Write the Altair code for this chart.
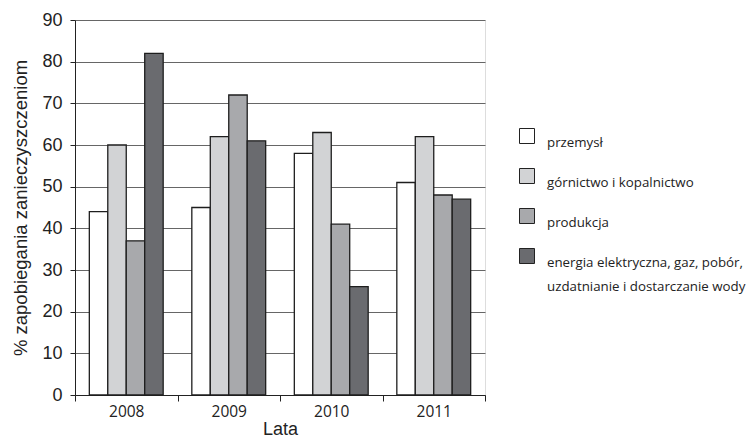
import altair as alt
import pandas as pd

years = ["2008", "2009", "2010", "2011"]
series = ["przemysł", "górnictwo i kopalnictwo", "produkcja",
          "energia elektryczna, gaz, pobór, uzdatnianie i dostarczanie wody"]
v_przemysl = [44, 45, 58, 51]
v_gornictwo = [60, 62, 63, 62]
v_produkcja = [37, 72, 41, 48]
v_energia = [82, 61, 26, 47]
colors = ["#ffffff", "#d2d3d5", "#a8a9ac", "#6a6b6f"]

rows = []
for s, vals in zip(series, [v_przemysl, v_gornictwo, v_produkcja, v_energia]):
    for y, v in zip(years, vals):
        rows.append({"Lata": y, "seria": s, "wartosc": v})
df = pd.DataFrame(rows)

label_expr = ("datum.label == 'energia elektryczna, gaz, pobór, uzdatnianie i dostarczanie wody' ? "
              "['energia elektryczna, gaz, pobór,', 'uzdatnianie i dostarczanie wody'] : datum.label")

bars = alt.Chart(df).mark_bar(stroke="#1e1e1e", strokeWidth=1.3).encode(
    x=alt.X("Lata:N", sort=years,
            scale=alt.Scale(paddingInner=0, paddingOuter=0),
            axis=alt.Axis(title="Lata", labelAngle=0, tickBand="extent",
                          labelFont="Open Sans", labelFontSize=15.5, labelColor="#222",
                          titleFont="Liberation Sans", titleFontSize=18, titleFontWeight="normal",
                          titleColor="#222", titleBaseline="alphabetic", titleY=39,
                          domainColor="#222", tickColor="#222", tickSize=6, labelPadding=3)),
    xOffset=alt.XOffset("seria:N", sort=series,
                        scale=alt.Scale(paddingInner=0, paddingOuter=0.776)),
    y=alt.Y("wartosc:Q",
            scale=alt.Scale(domain=[0, 90]),
            axis=alt.Axis(title="% zapobiegania zanieczyszczeniom", values=list(range(0, 91, 10)),
                          labelFont="Liberation Sans", labelFontSize=18, labelColor="#222",
                          titleFont="Liberation Sans", titleFontSize=18.5, titleFontWeight="normal",
                          titleColor="#222", titlePadding=11,
                          domainColor="#222", tickColor="#222", tickSize=5,
                          grid=True, gridColor="#666666", gridWidth=1, labelPadding=8)),
    fill=alt.Fill("seria:N", sort=series,
                  scale=alt.Scale(domain=series, range=colors),
                  legend=alt.Legend(title=None, orient="none", legendX=444, legendY=108,
                                    symbolType="square", symbolSize=225,
                                    symbolStrokeColor="#222", symbolStrokeWidth=1,
                                    labelFont="Open Sans", labelFontSize=13.3, labelColor="#222",
                                    labelExpr=label_expr, labelLimit=300, labelOffset=12,
                                    rowPadding=16, labelBaseline="top")),
)

chart = bars.properties(
    width=410, height=375,
    autosize=alt.AutoSizeParams(type="none"),
    padding={"left": 67, "top": 12, "right": 262, "bottom": 43},
).configure_view(stroke=None).configure_axis(domainWidth=1.2).configure(
    style={"guide-label": {"lineHeight": 24}}
)

chart.save("out.html", embed_options={"renderer": "svg", "actions": False})
